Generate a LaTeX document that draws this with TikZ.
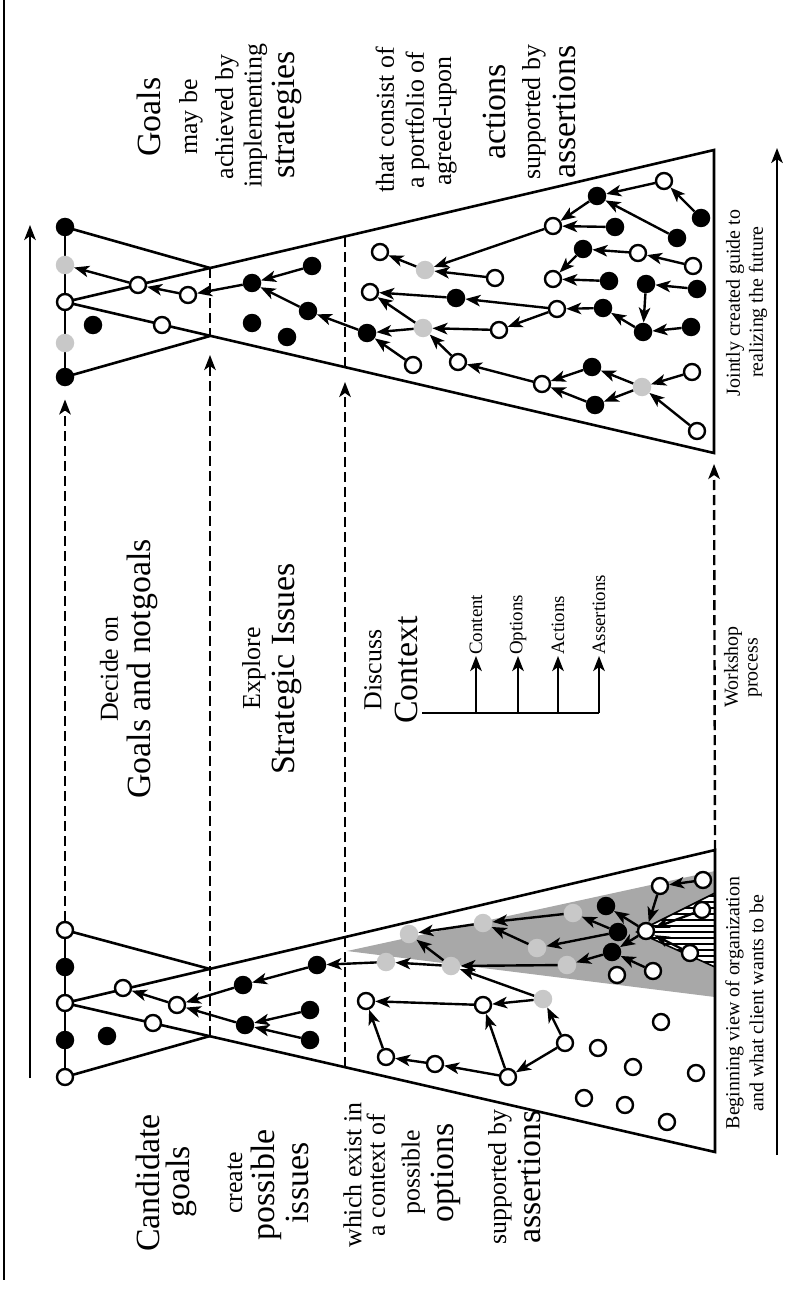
\documentclass[tikz,border=0pt]{standalone}
\usepackage{fontspec}
\setmainfont{Liberation Serif}
\usetikzlibrary{arrows.meta}
\definecolor{lightdot}{HTML}{C8C8C8}
\definecolor{wedge}{HTML}{A8A8A8}
\begin{document}
\begin{tikzpicture}[x=1bp,y=-1bp,
  wnode/.style={circle,draw=black,fill=white,line width=2.4bp,minimum size=16bp,inner sep=0pt},
  bnode/.style={circle,fill=black,minimum size=18.5bp,inner sep=0pt},
  gnode/.style={circle,fill=lightdot,minimum size=18.5bp,inner sep=0pt},
  link/.style={-{Stealth[length=15bp,width=11.5bp,inset=4bp]},line width=2.4bp},
  outline/.style={line width=2.6bp,line join=miter},
  guide/.style={dash pattern=on 10bp off 5bp,line width=2.4bp},
  bigtext/.style={rotate=90,font=\fontsize{34}{36}\selectfont,inner sep=0pt},
  smalltext/.style={rotate=90,font=\fontsize{26}{28}\selectfont,inner sep=0pt},
  tinytext/.style={rotate=90,font=\fontsize{20}{22}\selectfont,inner sep=0pt},
  legendtext/.style={rotate=90,font=\fontsize{19}{21}\selectfont,inner sep=1bp,anchor=west},
]
\useasboundingbox (0,0) rectangle (795,1302);

% page rule and time axes
\draw[line width=1.6bp] (4,0) -- (4,1280);
\coordinate (axL0) at (30,1078);
\coordinate (axL1) at (30,225);
\coordinate (axR0) at (777,1155);
\coordinate (axR1) at (777,148);
\draw[link] (axL0) -- (axL1);
\draw[link] (axR0) -- (axR1);

% ---------- starting state (bottom) ----------
\fill[wedge] (347,951) -- (715,871) -- (715,997) -- cycle;
\begin{scope}
  \clip (637,932) -- (715,893) -- (715,967) -- cycle;
  \fill[white] (630,885) rectangle (720,975);
  \foreach \yy in {896,902,...,968} \draw[line width=1.2bp] (630,\yy) -- (720,\yy);
\end{scope}
\draw[line width=1.6bp] (715,893) -- (637,932) -- (715,967);

\coordinate (lP1) at (210,969);
\coordinate (lP2) at (210,1036);
\coordinate (lTR) at (715,850);
\coordinate (lBR) at (715,1152);
\coordinate (lE345) at (345,1067);
\draw[outline] (65,930) -- (65,1077);
\draw[outline] (65,930) -- (lP1);
\draw[outline] (65,1077) -- (lP2);
\draw[outline] (65,1003) -- (lTR) -- (lBR) -- cycle;

% ---------- resulting state (top) ----------
\coordinate (rQ1) at (210,268);
\coordinate (rQ2) at (210,336);
\coordinate (rTR) at (714,150);
\coordinate (rBR) at (714,453);
\coordinate (rE345t) at (345,237);
\coordinate (rE345) at (345,367);
\draw[outline] (65,227) -- (65,377);
\draw[outline] (65,227) -- (rQ1);
\draw[outline] (65,377) -- (rQ2);
\draw[outline] (65,302) -- (rTR) -- (rBR) -- cycle;
\draw[guide] (rQ1) -- (rQ2);
\draw[guide] (rE345t) -- (rE345);

% ---------- nodes, starting state ----------
\node[wnode] (D1) at (65,930) {};
\node[bnode] (D2) at (65,967) {};
\node[wnode] (D3) at (65,1003) {};
\node[bnode] (D4) at (65,1040) {};
\node[wnode] (D5) at (65,1077) {};
\node[wnode] (LB1) at (123,988) {};
\node[wnode] (LB2) at (177,1005) {};
\node[wnode] (LB3) at (153,1023) {};
\node[bnode] (LB4) at (107,1036) {};
\node[bnode] (LB5) at (243,985) {};
\node[bnode] (LB6) at (317,965) {};
\node[bnode] (LB7) at (245,1025) {};
\node[bnode] (LB8) at (310,1010) {};
\node[bnode] (LB9) at (310,1040) {};

\node[gnode] (L1) at (386,962) {};
\node[gnode] (L2) at (409,934) {};
\node[gnode] (L3) at (483,923) {};
\node[gnode] (L4) at (573,913) {};
\node[gnode] (L5) at (537,948) {};
\node[gnode] (L6) at (451,966) {};
\node[gnode] (L7) at (567,965) {};
\node[gnode] (L8) at (543,999) {};
\node[wnode] (L9) at (366,1001) {};
\node[wnode] (L10) at (483,1005) {};
\node[wnode] (L11) at (386,1057) {};
\node[wnode] (L12) at (435,1064) {};
\node[wnode] (L13) at (508,1077) {};
\node[wnode] (L14) at (565,1043) {};
\node[wnode] (L15) at (703,880) {};
\node[wnode] (L16) at (660,886) {};
\node[bnode] (L17) at (606,906) {};
\node[wnode] (L18) at (702,910) {};
\node[wnode] (L19) at (646,931) {};
\node[bnode] (L20) at (618,932) {};
\node[bnode] (L21) at (612,952) {};
\node[wnode] (L22) at (690,953) {};
\node[wnode] (L23) at (653,971) {};
\node[wnode] (L24) at (617,975) {};
\node[wnode] (S1) at (661,1022) {};
\node[wnode] (S2) at (598,1048) {};
\node[wnode] (S3) at (633,1067) {};
\node[wnode] (S4) at (696,1073) {};
\node[wnode] (S5) at (584,1098) {};
\node[wnode] (S6) at (625,1105) {};
\node[wnode] (S7) at (667,1122) {};

% ---------- nodes, resulting state ----------
\node[bnode] (C1) at (65,227) {};
\node[gnode] (C2) at (65,265) {};
\node[wnode] (C3) at (65,302) {};
\node[gnode] (C4) at (65,343) {};
\node[bnode] (C5) at (65,377) {};
\node[bnode] (B1) at (252,283) {};
\node[wnode] (B2) at (188,295) {};
\node[wnode] (B3) at (138,285) {};
\node[wnode] (B4) at (162,325) {};
\node[bnode] (B5) at (93,325) {};
\node[bnode] (B6) at (252,323) {};
\node[bnode] (B7) at (287,337) {};

\node[bnode] (R1) at (312,266) {};
\node[bnode] (R2) at (308,311) {};
\node[bnode] (R3) at (367,333) {};
\node[wnode] (R4) at (380,252) {};
\node[gnode] (R5) at (425,270) {};
\node[wnode] (R6) at (370,292) {};
\node[bnode] (R7) at (456,298) {};
\node[gnode] (R8) at (423,328) {};
\node[wnode] (R9) at (413,365) {};
\node[wnode] (R10) at (458,362) {};
\node[wnode] (R11) at (495,278) {};
\node[wnode] (R12) at (499,330) {};
\node[wnode] (R13) at (557,309) {};
\node[wnode] (R14) at (542,384) {};
\node[bnode] (R15) at (592,367) {};
\node[bnode] (R16) at (595,405) {};
\node[gnode] (R17) at (642,387) {};
\node[wnode] (R18) at (692,372) {};
\node[wnode] (R19) at (697,431) {};
\node[wnode] (R20) at (553,226) {};
\node[bnode] (R21) at (615,227) {};
\node[bnode] (R22) at (597,196) {};
\node[wnode] (R23) at (664,181) {};
\node[bnode] (R24) at (701,218) {};
\node[bnode] (R25) at (677,238) {};
\node[bnode] (R26) at (583,249) {};
\node[wnode] (R27) at (638,253) {};
\node[wnode] (R28) at (693,266) {};
\node[wnode] (R29) at (553,279) {};
\node[bnode] (R30) at (609,281) {};
\node[bnode] (R31) at (646,284) {};
\node[bnode] (R32) at (697,289) {};
\node[bnode] (R33) at (603,308) {};
\node[bnode] (R34) at (643,332) {};
\node[bnode] (R35) at (691,327) {};

% ---------- links ----------
\foreach \a/\b in {LB2/LB1,LB5/LB2,LB6/LB5,LB7/LB2,LB8/LB7,LB9/LB7,L1/LB6,
  L6/L1,L6/L2,L3/L2,L4/L3,L5/L3,L7/L6,L8/L6,L8/L10,L10/L9,L11/L9,L12/L11,
  L13/L12,L13/L10,L14/L13,L14/L8,L15/L16,L16/L19,L18/L19,L22/L19,L19/L17,
  L20/L4,L20/L5,L19/L21,L21/L7,L23/L21}
  \draw[link] (\a) -- (\b);
\foreach \a/\b in {B3/C2,B2/B3,B1/B2,R1/B1,R2/B1,R3/R2,
  R5/R4,R20/R5,R11/R5,R7/R6,R8/R6,R12/R8,R8/R3,R9/R3,R10/R8,R14/R10,
  R13/R7,R13/R12,R15/R14,R16/R14,R17/R15,R17/R16,R18/R17,R19/R17,
  R23/R22,R24/R23,R25/R22,R22/R20,R21/R20,R27/R26,R28/R27,R26/R29,
  R30/R29,R32/R31,R31/R34,R35/R34,R34/R33,R33/R13}
  \draw[link] (\a) -- (\b);

% ---------- stage guides ----------
\draw[guide,link,shorten >=13bp] (D1) -- (C5);
\draw[guide,link,shorten >=19bp] (lP2) -- (rQ2);
\draw[guide,link,shorten >=15bp] (lE345) -- (rE345);
\draw[guide,link,shorten >=11bp] (lTR) -- (rBR);

% ---------- context legend ----------
\coordinate (lg0) at (422,713);
\coordinate (lg1) at (476,713);
\coordinate (lg2) at (518,713);
\coordinate (lg3) at (558,713);
\coordinate (lg4) at (599,713);
\draw[line width=2.4bp] (lg0) -- (lg4);
\node[legendtext] (lgContent) at (476,656) {Content};
\node[legendtext] (lgOptions) at (518,656) {Options};
\node[legendtext] (lgActions) at (558,656) {Actions};
\node[legendtext] (lgAssertions) at (599,656) {Assertions};
\draw[link] (lg1) -- (lgContent);
\draw[link] (lg2) -- (lgOptions);
\draw[link] (lg3) -- (lgActions);
\draw[link] (lg4) -- (lgAssertions);

% ---------- texts ----------
\node[bigtext] (t1) at (148.5,117) {Goals};
\node[smalltext] (t2) at (191,117) {may be};
\node[smalltext] (t3) at (227,117) {achieved by};
\node[smalltext] (t4) at (255.5,116) {implementing};
\node[bigtext] (t5) at (286.5,115) {strategies};
\node[smalltext] (t6) at (385,120) {that consist of};
\node[smalltext] (t7) at (417.5,120) {a portfolio of};
\node[smalltext] (t8) at (445,121) {agreed-upon};
\node[bigtext] (t9) at (494.5,112) {actions};
\node[smalltext] (t10) at (534,112) {supported by};
\node[bigtext] (t11) at (564,112) {assertions};

\node[bigtext] (u1) at (147.5,1183) {Candidate};
\node[bigtext] (u2) at (181.5,1182) {goals};
\node[smalltext] (u3) at (235,1183) {create};
\node[bigtext] (u4) at (266.5,1185) {possible};
\node[bigtext] (u5) at (297,1183) {issues};
\node[smalltext] (u6) at (352.5,1175) {which exist in};
\node[smalltext] (u7) at (376,1175) {a context of};
\node[smalltext] (u8) at (413.5,1172) {possible};
\node[bigtext] (u9) at (446,1173) {options};
\node[smalltext] (u10) at (500,1177) {supported by};
\node[bigtext] (u11) at (529.5,1177) {assertions};

\node[smalltext] (m1) at (109,669) {Decide on};
\node[bigtext] (m2) at (142,669) {Goals and notgoals};
\node[smalltext] (m3) at (254,668) {Explore};
\node[bigtext] (m4) at (287,669) {Strategic Issues};
\node[smalltext] (m5) at (373,670) {Discuss};
\node[bigtext] (m6) at (406,670) {Context};
\node[tinytext] (m7) at (733,667) {Workshop};
\node[tinytext] (m8) at (755,668) {process};

\node[tinytext] (n1) at (734.5,1003) {Beginning view of organization};
\node[tinytext] (n2) at (756.5,1003) {and what client wants to be};
\node[tinytext] (n3) at (735,303) {Jointly created guide to};
\node[tinytext] (n4) at (758,302) {realizing the future};
\end{tikzpicture}
\end{document}
